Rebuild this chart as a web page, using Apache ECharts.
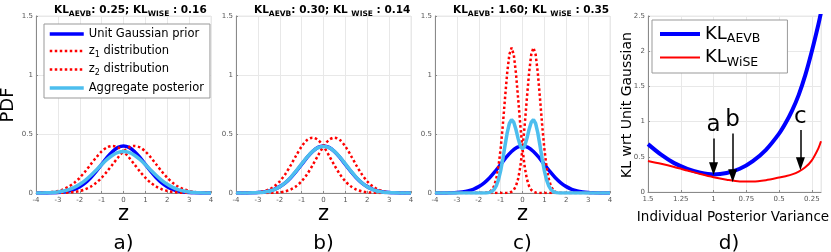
<!DOCTYPE html>
<html>
<head>
<meta charset="utf-8">
<script src="https://cdn.jsdelivr.net/npm/echarts@6/dist/echarts.min.js"></script>
<style>
html,body{margin:0;padding:0;background:#fff;}
#chart{width:831px;height:252px;}
</style>
</head>
<body>
<div id="chart"></div>
<script>
// ---------- DATA ----------
const zWide = [-4,-3.75,-3.5,-3.25,-3,-2.75,-2.5,-2.25,-2,-1.75,-1.5,-1.25,-1,-0.75,-0.5,-0.25,0,0.25,0.5,0.75,1,1.25,1.5,1.75,2,2.25,2.5,2.75,3,3.25,3.5,3.75,4];
const zFine = [-4,-3,-2,-1.9,-1.8,-1.7,-1.6,-1.5,-1.4,-1.3,-1.2,-1.1,-1,-0.9,-0.8,-0.7,-0.6,-0.5,-0.4,-0.3,-0.2,-0.1,0,0.1,0.2,0.3,0.4,0.5,0.6,0.7,0.8,0.9,1,1.1,1.2,1.3,1.4,1.5,1.6,1.7,1.8,1.9,2,3,4];

const priorPdf = [0.0001,0.0004,0.0009,0.0020,0.0044,0.0091,0.0175,0.0317,0.0540,0.0863,0.1295,0.1826,0.2420,0.3011,0.3521,0.3867,0.3989,0.3867,0.3521,0.3011,0.2420,0.1826,0.1295,0.0863,0.0540,0.0317,0.0175,0.0091,0.0044,0.0020,0.0009,0.0004,0.0001];

const aZ1 = [0.0009,0.0020,0.0044,0.0091,0.0175,0.0317,0.0540,0.0863,0.1295,0.1826,0.2420,0.3011,0.3521,0.3867,0.3989,0.3867,0.3521,0.3011,0.2420,0.1826,0.1295,0.0863,0.0540,0.0317,0.0175,0.0091,0.0044,0.0020,0.0009,0.0004,0.0001,0,0];
const aZ2 = [0,0,0.0001,0.0004,0.0009,0.0020,0.0044,0.0091,0.0175,0.0317,0.0540,0.0863,0.1295,0.1826,0.2420,0.3011,0.3521,0.3867,0.3989,0.3867,0.3521,0.3011,0.2420,0.1826,0.1295,0.0863,0.0540,0.0317,0.0175,0.0091,0.0044,0.0020,0.0009];
const aAgg = [0.0005,0.0010,0.0023,0.0048,0.0092,0.0169,0.0292,0.0477,0.0735,0.1072,0.1480,0.1937,0.2408,0.2847,0.3205,0.3439,0.3521,0.3439,0.3205,0.2847,0.2408,0.1937,0.1480,0.1072,0.0735,0.0477,0.0292,0.0169,0.0092,0.0048,0.0023,0.0010,0.0005];

const bZ1 = [0.0001,0.0003,0.0009,0.0025,0.0062,0.0141,0.0295,0.0564,0.0989,0.1592,0.2349,0.3180,0.3947,0.4495,0.4693,0.4495,0.3947,0.3180,0.2349,0.1592,0.0989,0.0564,0.0295,0.0141,0.0062,0.0025,0.0009,0.0003,0.0001,0,0,0,0];
const bZ2 = [0,0,0,0,0.0001,0.0003,0.0009,0.0025,0.0062,0.0141,0.0295,0.0564,0.0989,0.1592,0.2349,0.3180,0.3947,0.4495,0.4693,0.4495,0.3947,0.3180,0.2349,0.1592,0.0989,0.0564,0.0295,0.0141,0.0062,0.0025,0.0009,0.0003,0.0001];
const bAgg = [0,0.0002,0.0005,0.0013,0.0032,0.0072,0.0152,0.0295,0.0526,0.0867,0.1322,0.1872,0.2468,0.3044,0.3521,0.3838,0.3947,0.3838,0.3521,0.3044,0.2468,0.1872,0.1322,0.0867,0.0526,0.0295,0.0152,0.0072,0.0032,0.0013,0.0005,0.0002,0];

const cZ1 = [0,0,0,0.0001,0.0004,0.0013,0.0039,0.0105,0.0260,0.0585,0.1194,0.2218,0.3744,0.5748,0.8021,1.0177,1.1741,1.2313,1.1741,1.0177,0.8021,0.5748,0.3744,0.2218,0.1194,0.0585,0.0260,0.0105,0.0039,0.0013,0.0004,0.0001,0,0,0,0,0,0,0,0,0,0,0,0,0];
const cZ2 = [0,0,0,0,0,0,0,0,0,0,0,0,0,0.0001,0.0004,0.0013,0.0039,0.0105,0.0260,0.0585,0.1194,0.2218,0.3744,0.5748,0.8021,1.0177,1.1741,1.2313,1.1741,1.0177,0.8021,0.5748,0.3744,0.2218,0.1194,0.0585,0.0260,0.0105,0.0039,0.0013,0.0004,0.0001,0,0,0];
const cAgg = [0,0,0,0.0001,0.0002,0.0007,0.0020,0.0053,0.0130,0.0293,0.0597,0.1109,0.1872,0.2875,0.4013,0.5095,0.5890,0.6209,0.6001,0.5381,0.4608,0.3983,0.3744,0.3983,0.4608,0.5381,0.6001,0.6209,0.5890,0.5095,0.4013,0.2875,0.1872,0.1109,0.0597,0.0293,0.0130,0.0053,0.0020,0.0007,0.0002,0.0001,0,0,0];

// panel d: individual posterior variance (axis runs 1.5 -> ~0.18)
const postVar = [1.5,1.4,1.3,1.2,1.1,1.0,0.9,0.8,0.7,0.6,0.5,0.45,0.4,0.35,0.3,0.25,0.2,0.18];
const klAevb  = [0.68,0.53,0.41,0.33,0.275,0.25,0.27,0.33,0.44,0.6,0.83,0.98,1.16,1.38,1.66,2.0,2.38,2.55];
const klWise  = [0.44,0.40,0.355,0.305,0.255,0.21,0.175,0.15,0.148,0.168,0.205,0.225,0.25,0.29,0.35,0.45,0.62,0.72];
const varMin = 0.18, varMax = 1.5;

const annoLabels = ['a','b','c'];
const annoVar = [1.0, 0.854, 0.337];
const annoTop = [0.76, 0.83, 0.88];
const annoTip = [0.33, 0.23, 0.40];

const panelTitles = [
  ['AEVB', '0.25', 'WISE', '0.16', ''],
  ['AEVB', '0.30', 'WISE', '0.14', ' '],
  ['AEVB', '1.60', 'WiSE', '0.35', ' ']
];
const panelLetters = ['a)', 'b)', 'c)', 'd)'];
const legendNames = ['Unit Gaussian prior', 'z1 distribution', 'z2 distribution', 'Aggregate posterior'];

// ---------- LAYOUT ----------
const FONT = 'DejaVu Sans';
const grids = [
  {left: 36, top: 16, width: 175, height: 177},
  {left: 236, top: 16, width: 175, height: 177},
  {left: 435, top: 16, width: 175, height: 177},
  {left: 648, top: 16, width: 173, height: 176}
];
const BLUE = '#0000ff', LBLUE = '#4dbeee', RED = '#ff0000';

function pairs(xs, ys){ return xs.map((x,i)=>[x, ys[i]]); }
function axisCommon(extraLabel){
  return {
    axisLine: {show: true, onZero: false, lineStyle: {color: '#8a8a8a', width: 1}},
    axisTick: {show: true, inside: true, length: 2, lineStyle: {color: '#8a8a8a'}},
    splitLine: {show: true, lineStyle: {color: '#e8e8e8', width: 1}},
    axisLabel: Object.assign({fontSize: 7, color: '#555', fontFamily: FONT, margin: 4}, extraLabel || {})
  };
}

const xAxes = [], yAxes = [];
for (let i = 0; i < 3; i++) {
  xAxes.push(Object.assign({type: 'value', gridIndex: i, min: -4, max: 4, interval: 1}, axisCommon()));
  yAxes.push(Object.assign({type: 'value', gridIndex: i, min: 0, max: 1.5, interval: 0.5}, axisCommon({margin: 3})));
}
// panel d: reversed variance axis (distance from 1.5)
xAxes.push(Object.assign({type: 'value', gridIndex: 3, min: 0, max: varMax - varMin, interval: 0.25},
  axisCommon({formatter: v => String(Math.round((varMax - v) * 100) / 100)})));
yAxes.push(Object.assign({type: 'value', gridIndex: 3, min: 0, max: 2.5, interval: 0.5}, axisCommon({margin: 3})));

const series = [];
const panels = [
  {z1: aZ1, z2: aZ2, agg: aAgg, zx: zWide},
  {z1: bZ1, z2: bZ2, agg: bAgg, zx: zWide},
  {z1: cZ1, z2: cZ2, agg: cAgg, zx: zFine}
];
panels.forEach((p, i) => {
  const base = {type: 'line', xAxisIndex: i, yAxisIndex: i, symbol: 'none', showSymbol: false, silent: true};
  series.push(Object.assign({}, base, {name: legendNames[0], data: pairs(zWide, priorPdf), smooth: 0.3,
    lineStyle: {color: BLUE, width: 3.5}, itemStyle: {color: BLUE}}));
  series.push(Object.assign({}, base, {name: legendNames[1], data: pairs(p.zx, p.z1), smooth: i < 2 ? 0.3 : false,
    lineStyle: {color: RED, width: 2.5, type: [2.5, 2.5]}, itemStyle: {color: RED}}));
  series.push(Object.assign({}, base, {name: legendNames[2], data: pairs(p.zx, p.z2), smooth: i < 2 ? 0.3 : false,
    lineStyle: {color: RED, width: 2.5, type: [2.5, 2.5]}, itemStyle: {color: RED}}));
  series.push(Object.assign({}, base, {name: legendNames[3], data: pairs(p.zx, p.agg), smooth: i < 2 ? 0.3 : false,
    lineStyle: {color: LBLUE, width: 3.5}, itemStyle: {color: LBLUE}}));
});

const dX = postVar.map(v => varMax - v);
series.push({type: 'line', name: 'KL_AEVB', xAxisIndex: 3, yAxisIndex: 3, symbol: 'none', showSymbol: false, silent: true,
  smooth: 0.3, data: pairs(dX, klAevb), lineStyle: {color: BLUE, width: 4}, itemStyle: {color: BLUE}});
series.push({type: 'line', name: 'KL_WiSE', xAxisIndex: 3, yAxisIndex: 3, symbol: 'none', showSymbol: false, silent: true,
  smooth: 0.3, data: pairs(dX, klWise), lineStyle: {color: RED, width: 2}, itemStyle: {color: RED},
  markLine: {
    silent: true, animation: false, symbol: ['none', 'triangle'], symbolSize: [9, 13],
    lineStyle: {color: '#000', width: 1.5, type: 'solid'},
    label: {show: true, position: 'start', formatter: '{b}', fontSize: 23, color: '#000', fontFamily: FONT, distance: 2},
    data: annoLabels.map((l, i) => [
      {name: l, coord: [varMax - annoVar[i], annoTop[i]]},
      {coord: [varMax - annoVar[i], annoTip[i]]}
    ])
  }
});

const titleRich = {
  k: {fontSize: 10.5, fontWeight: 'bold', fontFamily: FONT, color: '#000', lineHeight: 13, verticalAlign: 'top'},
  s: {fontSize: 7.5, fontWeight: 'bold', fontFamily: FONT, color: '#000', lineHeight: 13, verticalAlign: 'top', padding: [5, 0, 0, 0]}
};
const titleLefts = [49, 249, 448];
const titles = panelTitles.map((t, i) => ({
  left: titleLefts[i], top: 0,
  text: '{k|KL}{s|' + t[0] + '}{k|: ' + t[1] + '; KL' + t[4] + '}{s|' + t[2] + '}{k| : ' + t[3] + '}',
  textStyle: {rich: titleRich, fontSize: 10.5}
}));

const hideSym = {color: 'rgba(0,0,0,0)', borderColor: 'rgba(0,0,0,0)', borderWidth: 0};
const legendAWidths = [3.5, 2.5, 2.5, 3.5];
const legendA = {
  orient: 'vertical', left: 44, top: 24, selectedMode: false,
  data: legendNames.map((n, i) => ({name: n, lineStyle: {width: legendAWidths[i]}, itemStyle: hideSym})),
  itemWidth: 34, itemHeight: 12, itemGap: 5,
  itemStyle: hideSym,
  padding: [4, 6, 4, 4], borderColor: '#999', borderWidth: 1, backgroundColor: '#fff',
  textStyle: {fontFamily: FONT, fontSize: 11.5, color: '#000',
    rich: {t: {fontSize: 11.5, fontFamily: FONT, color: '#000'},
           s: {fontSize: 8, fontFamily: FONT, color: '#000', padding: [7, 0, 0, 0]}}},
  formatter: n => n.indexOf('z1') === 0 ? '{t|z}{s|1}{t| distribution}' :
                  n.indexOf('z2') === 0 ? '{t|z}{s|2}{t| distribution}' : '{t|' + n + '}'
};
const legendD = {
  orient: 'vertical', left: 652, top: 20, selectedMode: false,
  data: [{name: 'KL_AEVB', lineStyle: {width: 4}, itemStyle: hideSym}, {name: 'KL_WiSE', lineStyle: {width: 2}, itemStyle: hideSym}],
  itemWidth: 40, itemHeight: 14, itemGap: 3,
  itemStyle: hideSym,
  padding: [5, 27, 4, 6], borderColor: '#999', borderWidth: 1, backgroundColor: '#fff',
  textStyle: {fontFamily: FONT, fontSize: 18, color: '#000',
    rich: {k: {fontSize: 18, fontFamily: FONT, color: '#000'},
           s: {fontSize: 12.5, fontFamily: FONT, color: '#000', padding: [10, 0, 0, 0]}}},
  formatter: n => '{k|KL}{s|' + n.split('_')[1] + '}'
};

const graphic = [];
const zCenters = [123.5, 323.5, 522.5];
zCenters.forEach(cx => graphic.push({type: 'text', x: cx, y: 215, style: {text: 'z', fontSize: 21, fontFamily: FONT, fill: '#000', align: 'center', verticalAlign: 'middle'}}));
const letterCenters = [123.5, 323.5, 522.5, 729];
panelLetters.forEach((t, i) => graphic.push({type: 'text', x: letterCenters[i], y: 244, style: {text: t, fontSize: 20, fontFamily: FONT, fill: '#000', align: 'center', verticalAlign: 'middle'}}));
graphic.push({type: 'text', x: 8, y: 105, rotation: Math.PI / 2, style: {text: 'PDF', fontSize: 18, fontFamily: FONT, fill: '#000', align: 'center', verticalAlign: 'middle'}});
graphic.push({type: 'text', x: 627, y: 105, rotation: Math.PI / 2, style: {text: 'KL wrt Unit Gaussian', fontSize: 14, fontFamily: FONT, fill: '#000', align: 'center', verticalAlign: 'middle'}});
graphic.push({type: 'text', x: 733, y: 217, style: {text: 'Individual Posterior Variance', fontSize: 13.5, fontFamily: FONT, fill: '#000', align: 'center', verticalAlign: 'middle'}});

const chart = echarts.init(document.getElementById('chart'), null, {renderer: 'canvas'});
chart.setOption({
  animation: false,
  backgroundColor: '#fff',
  textStyle: {fontFamily: FONT},
  title: titles,
  legend: [legendA, legendD],
  grid: grids.map(g => Object.assign({show: true, borderColor: '#e8e8e8', borderWidth: 1, backgroundColor: 'transparent', containLabel: false}, g)),
  xAxis: xAxes,
  yAxis: yAxes,
  series: series,
  graphic: graphic
});
</script>
</body>
</html>
